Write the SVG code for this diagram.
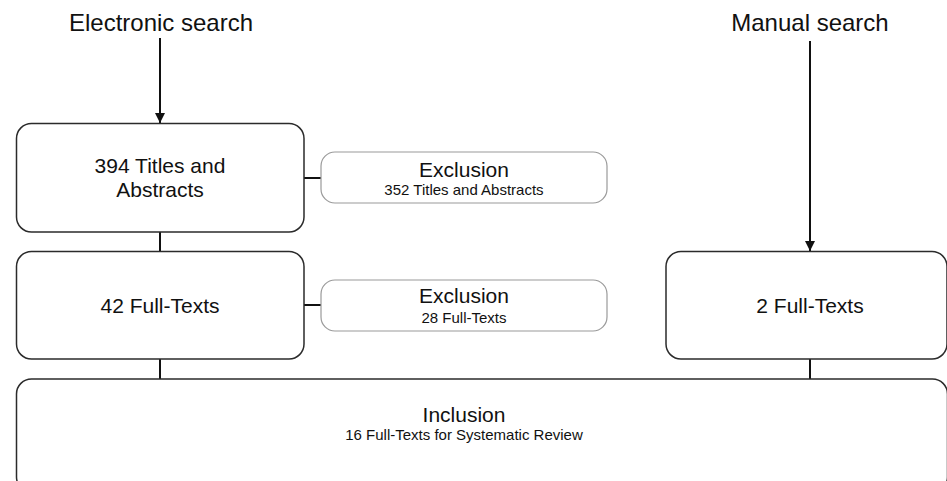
<svg xmlns="http://www.w3.org/2000/svg" width="947" height="481" viewBox="0 0 947 481">
<style>
  .main{fill:#fff;stroke:#2b2b2b;stroke-width:1.5}
  .excl{fill:#fff;stroke:#9a9a9a;stroke-width:1.2}
  .conn{stroke:#111;stroke-width:2;fill:none}
  text{font-family:"Liberation Sans",Arial,sans-serif;fill:#111;text-anchor:middle}
  .head{font-size:24px}
  .lbl{font-size:21px}
  .sub{font-size:15px}
</style>
<defs>
  <marker id="arr" markerWidth="10" markerHeight="10" refX="10" refY="5" orient="auto" markerUnits="userSpaceOnUse">
    <path d="M0,0 L10,5 L0,10 Z" fill="#111"/>
  </marker>
</defs>
<rect width="947" height="481" fill="#fff"/>
<g id="connectors">
  <line class="conn" x1="160" y1="38" x2="160" y2="123" marker-end="url(#arr)"/>
  <line class="conn" x1="810" y1="41" x2="810" y2="251" marker-end="url(#arr)"/>
  <line class="conn" x1="304" y1="178" x2="321" y2="178"/>
  <line class="conn" x1="304" y1="305" x2="321" y2="305"/>
  <line class="conn" x1="160" y1="232" x2="160" y2="252"/>
  <line class="conn" x1="160" y1="359" x2="160" y2="379"/>
  <line class="conn" x1="810" y1="359" x2="810" y2="379"/>
</g>
<g id="electronic-search">
  <text class="head" x="161" y="31">Electronic search</text>
</g>
<g id="manual-search">
  <text class="head" x="810" y="31">Manual search</text>
</g>
<g id="titles-abstracts">
  <rect class="main" x="16.5" y="123.5" width="287.5" height="108.5" rx="15"/>
  <text class="lbl" x="160" y="173">394 Titles and</text>
  <text class="lbl" x="160" y="197">Abstracts</text>
</g>
<g id="exclusion-1">
  <rect class="excl" x="321" y="152" width="286" height="51" rx="14"/>
  <text class="lbl" x="464" y="177">Exclusion</text>
  <text class="sub" x="464" y="195">352 Titles and Abstracts</text>
</g>
<g id="full-texts-42">
  <rect class="main" x="16.5" y="251.5" width="287.5" height="107.5" rx="15"/>
  <text class="lbl" x="160" y="313">42 Full-Texts</text>
</g>
<g id="exclusion-2">
  <rect class="excl" x="321" y="280" width="286" height="51" rx="14"/>
  <text class="lbl" x="464" y="303">Exclusion</text>
  <text class="sub" x="464" y="323">28 Full-Texts</text>
</g>
<g id="full-texts-2">
  <rect class="main" x="666" y="251.5" width="281" height="107.5" rx="15"/>
  <text class="lbl" x="810" y="313">2 Full-Texts</text>
</g>
<g id="inclusion">
  <rect class="main" x="16.5" y="379" width="931" height="113" rx="15"/>
  <text class="lbl" x="464" y="422">Inclusion</text>
  <text class="sub" x="464" y="440">16 Full-Texts for Systematic Review</text>
</g>
</svg>
